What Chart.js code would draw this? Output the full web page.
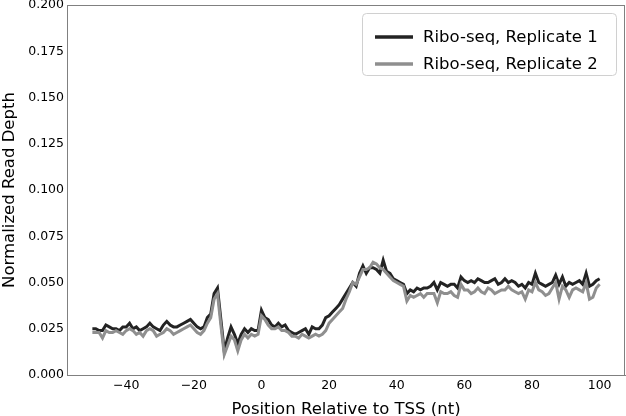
<!DOCTYPE html>
<html>
<head>
<meta charset="utf-8">
<script src="https://cdn.jsdelivr.net/npm/chart.js@4/dist/chart.umd.min.js"></script>
<style>
html,body{margin:0;padding:0;background:#fff;}
#wrap{width:626px;height:416px;}
</style>
</head>
<body>
<div id="wrap"><canvas id="c" width="626" height="416"></canvas></div>
<script>
// positions -50..100
const positions = [];
for (let p = -50; p <= 100; p++) positions.push(p);

const replicate1 = [
0.025,0.025,0.024,0.024,0.027,0.026,0.025,0.025,0.024,0.026,
0.026,0.028,0.025,0.026,0.024,0.025,0.026,0.028,0.026,0.025,
0.024,0.027,0.029,0.027,0.026,0.026,0.027,0.028,0.029,0.030,
0.028,0.026,0.025,0.026,0.031,0.033,0.044,0.047,0.030,0.013,
0.020,0.026,0.022,0.017,0.022,0.025,0.023,0.025,0.024,0.024,
0.035,0.031,0.030,0.027,0.026,0.028,0.026,0.027,0.024,0.023,
0.022,0.023,0.024,0.025,0.022,0.026,0.025,0.025,0.027,0.031,
0.032,0.034,0.036,0.038,0.041,0.044,0.047,0.050,0.048,0.055,
0.059,0.055,0.058,0.058,0.057,0.055,0.062,0.056,0.055,0.052,
0.051,0.050,0.049,0.044,0.046,0.045,0.047,0.046,0.047,0.047,
0.048,0.050,0.046,0.050,0.049,0.048,0.049,0.049,0.047,0.053,
0.051,0.050,0.051,0.050,0.052,0.051,0.050,0.050,0.051,0.052,
0.049,0.050,0.052,0.050,0.051,0.050,0.048,0.049,0.047,0.050,
0.049,0.055,0.050,0.049,0.048,0.049,0.050,0.054,0.049,0.053,
0.048,0.050,0.049,0.050,0.051,0.049,0.055,0.048,0.049,0.051,
0.052
];

const replicate2 = [
0.023,0.023,0.023,0.020,0.024,0.023,0.023,0.024,0.023,0.022,
0.024,0.025,0.024,0.022,0.023,0.021,0.024,0.025,0.024,0.021,
0.022,0.023,0.025,0.024,0.022,0.023,0.024,0.025,0.026,0.027,
0.025,0.023,0.022,0.024,0.028,0.031,0.041,0.044,0.027,0.011,
0.016,0.021,0.019,0.013,0.019,0.022,0.020,0.022,0.021,0.022,
0.032,0.030,0.027,0.025,0.025,0.026,0.024,0.024,0.023,0.021,
0.021,0.020,0.022,0.021,0.020,0.021,0.022,0.021,0.022,0.024,
0.028,0.030,0.032,0.034,0.036,0.041,0.045,0.050,0.049,0.053,
0.057,0.057,0.058,0.061,0.060,0.058,0.057,0.055,0.053,0.051,
0.050,0.049,0.048,0.040,0.043,0.042,0.043,0.044,0.042,0.044,
0.044,0.044,0.039,0.045,0.044,0.044,0.045,0.043,0.042,0.049,
0.046,0.046,0.044,0.045,0.047,0.045,0.044,0.047,0.046,0.044,
0.045,0.046,0.046,0.048,0.046,0.045,0.044,0.045,0.041,0.046,
0.045,0.050,0.046,0.045,0.043,0.044,0.047,0.050,0.041,0.048,
0.046,0.042,0.046,0.047,0.046,0.045,0.050,0.041,0.042,0.047,
0.049
];

const xTicks = [-40, -20, 0, 20, 40, 60, 80, 100];
const yTicks = [0, 0.025, 0.05, 0.075, 0.1, 0.125, 0.15, 0.175, 0.2];
const seriesLabels = ['Ribo-seq, Replicate 1', 'Ribo-seq, Replicate 2'];
const seriesColors = ['#232323', '#8f8f8f'];

const FONT = "'DejaVu Sans', sans-serif";

const framePlugin = {
  id: 'frame',
  afterDatasetsDraw(chart) {
    const {ctx, chartArea: a} = chart;
    ctx.save();
    ctx.strokeStyle = '#808080';
    ctx.lineWidth = 1;
    ctx.strokeRect(Math.round(a.left) + 0.5, Math.round(a.top) + 0.5,
                   Math.round(a.right - a.left) - 1, Math.round(a.bottom - a.top));
    ctx.restore();
  },
  afterDraw(chart) {
    const {ctx} = chart;
    const ds = chart.data.datasets;
    ctx.save();
    const bx = 362.5, by = 13.5, bw = 254, bh = 62, r = 4;
    ctx.beginPath();
    ctx.moveTo(bx + r, by);
    ctx.lineTo(bx + bw - r, by);
    ctx.quadraticCurveTo(bx + bw, by, bx + bw, by + r);
    ctx.lineTo(bx + bw, by + bh - r);
    ctx.quadraticCurveTo(bx + bw, by + bh, bx + bw - r, by + bh);
    ctx.lineTo(bx + r, by + bh);
    ctx.quadraticCurveTo(bx, by + bh, bx, by + bh - r);
    ctx.lineTo(bx, by + r);
    ctx.quadraticCurveTo(bx, by, bx + r, by);
    ctx.closePath();
    ctx.fillStyle = 'rgba(255,255,255,0.8)';
    ctx.fill();
    ctx.strokeStyle = '#d0d0d0';
    ctx.lineWidth = 1;
    ctx.stroke();
    ctx.font = '16.5px ' + FONT;
    ctx.textBaseline = 'middle';
    ctx.fillStyle = '#000';
    const rows = [37, 64];
    ds.forEach((d, i) => {
      ctx.strokeStyle = d.borderColor;
      ctx.lineWidth = 3.5;
      ctx.beginPath();
      ctx.moveTo(375, rows[i]);
      ctx.lineTo(413, rows[i]);
      ctx.stroke();
      ctx.fillText(d.label, 423, rows[i] + 1);
    });
    ctx.restore();
  }
};

new Chart(document.getElementById('c'), {
  type: 'line',
  data: {
    datasets: [
      {
        label: seriesLabels[0],
        data: positions.map((p, i) => ({x: p, y: replicate1[i]})),
        borderColor: seriesColors[0],
        borderWidth: 3,
        pointRadius: 0,
        tension: 0,
        order: 1
      },
      {
        label: seriesLabels[1],
        data: positions.map((p, i) => ({x: p, y: replicate2[i]})),
        borderColor: seriesColors[1],
        borderWidth: 3,
        pointRadius: 0,
        tension: 0,
        order: 0
      }
    ]
  },
  options: {
    responsive: false,
    animation: false,
    layout: {padding: {top: 5, right: 1, left: 0, bottom: 0}},
    plugins: {legend: {display: false}, tooltip: {enabled: false}},
    scales: {
      x: {
        type: 'linear',
        min: -57.5,
        max: 107.5,
        afterBuildTicks: s => { s.ticks = xTicks.map(v => ({value: v})); },
        afterFit: s => { s.height = 41; s.paddingLeft = 0; s.paddingRight = 0; },
        grid: {display: false, drawOnChartArea: false, drawTicks: false},
        border: {display: true, color: '#808080'},
        ticks: {
          font: {family: FONT, size: 12.5},
          color: '#000',
          padding: 3,
          maxRotation: 0,
          callback: v => (v < 0 ? '\u2212' + Math.abs(v) : String(v))
        },
        title: {display: true, text: 'Position Relative to TSS (nt)', font: {family: FONT, size: 16.5}, color: '#000', padding: {top: 2, bottom: -4}}
      },
      y: {
        type: 'linear',
        min: 0,
        max: 0.2,
        afterBuildTicks: s => { s.ticks = yTicks.map(v => ({value: v})); },
        afterFit: s => { s.width = 67; s.paddingTop = 0; s.paddingBottom = 0; },
        grid: {display: false, drawOnChartArea: false, drawTicks: false},
        border: {display: true, color: '#808080'},
        ticks: {
          font: {family: FONT, size: 12.5},
          color: '#000',
          padding: 3,
          callback: v => v.toFixed(3)
        },
        title: {display: true, text: 'Normalized Read Depth', font: {family: FONT, size: 16.5}, color: '#000', padding: {top: 0, bottom: 2}}
      }
    }
  },
  plugins: [framePlugin]
});
</script>
</body>
</html>
